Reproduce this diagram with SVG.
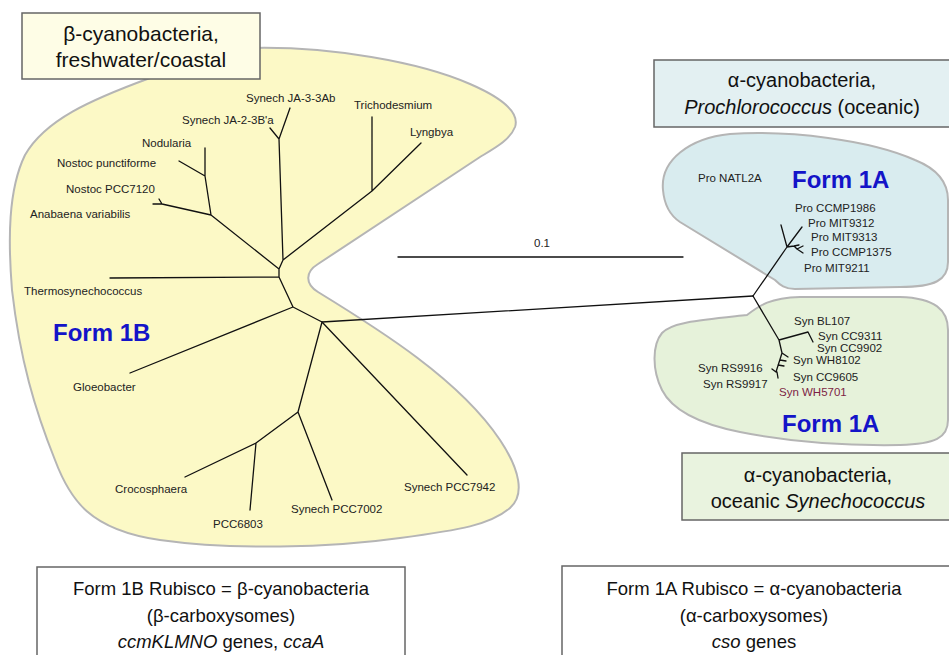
<svg xmlns="http://www.w3.org/2000/svg" width="949" height="655" viewBox="0 0 949 655">
<style>
.blob{stroke:#b5b5b5;stroke-width:2}
.box{stroke:#666;stroke-width:1.5}
.title{font-family:"Liberation Sans",Arial,sans-serif;font-size:20px;fill:#111;text-anchor:middle}
.foot{font-family:"Liberation Sans",Arial,sans-serif;font-size:18.5px;fill:#111;text-anchor:middle}
.lbl{font-family:"Liberation Sans",Arial,sans-serif;font-size:11.5px;fill:#222}
.form{font-family:"Liberation Sans",Arial,sans-serif;font-size:24px;font-weight:bold;fill:#1414c8}
.br{fill:none;stroke:#111;stroke-width:1.3;stroke-linecap:round;stroke-linejoin:round}
</style>
<rect width="949" height="655" fill="#fff"/>
<g id="blob-form1b">
<path class="blob" fill="#fcf9c6" d="M250,48 C330,46 420,62 470,84 C500,97 520,112 515,127 C510,140 495,148 480,157 L318,264 C305,272 305,284 318,292 C380,330 460,380 500,440 C520,470 525,495 510,508 C490,525 460,530 400,538 C330,548 230,550 160,540 C90,530 70,500 55,460 C35,410 20,360 12,290 C8,240 8,190 25,155 C45,120 90,100 150,78 C190,62 220,52 250,48 Z"/>
</g>
<g id="blob-pro">
<path class="blob" fill="#d9ecef" d="M663,190 C660,160 690,138 730,134 C790,130 870,140 915,160 C940,170 948,185 948,200 L948,262 C948,280 935,287 900,287 L795,289 C785,289 780,285 775,280 L680,222 C668,214 664,202 663,190 Z"/>
</g>
<g id="blob-syn">
<path class="blob" fill="#e6f2da" d="M747,315 C760,305 770,298 800,297 L900,297 C935,298 948,310 948,330 L948,420 C948,438 935,444 900,445 C840,446 790,442 740,432 C700,424 672,410 662,390 C652,370 652,345 662,333 C672,322 700,320 747,315 Z"/>
</g>
<g id="box-beta">
<rect class="box" x="22" y="13" width="238" height="66" fill="#fefde6"/>
<text class="title" x="141" y="41" style="font-size:21px">β-cyanobacteria,</text>
<text class="title" x="141" y="67" style="font-size:21px">freshwater/coastal</text>
</g>
<g id="box-pro">
<rect class="box" x="654" y="60" width="300" height="67" fill="#e3f0f2"/>
<text class="title" x="802" y="87">α-cyanobacteria,</text>
<text class="title" x="802" y="114"><tspan font-style="italic">Prochlorococcus</tspan> (oceanic)</text>
</g>
<g id="box-syn">
<rect class="box" x="682" y="453" width="272" height="67" fill="#e9f3df"/>
<text class="title" x="818" y="482">α-cyanobacteria,</text>
<text class="title" x="818" y="508">oceanic <tspan font-style="italic">Synechococcus</tspan></text>
</g>
<g id="box-1b">
<rect class="box" x="37" y="567" width="368" height="100" fill="#fff"/>
<text class="foot" x="221" y="595">Form 1B Rubisco = β-cyanobacteria</text>
<text class="foot" x="221" y="622">(β-carboxysomes)</text>
<text class="foot" x="221" y="648"><tspan font-style="italic">ccmKLMNO</tspan> genes, <tspan font-style="italic">ccaA</tspan></text>
</g>
<g id="box-1a">
<rect class="box" x="562" y="566" width="400" height="100" fill="#fff"/>
<text class="foot" x="754" y="595">Form 1A Rubisco = α-cyanobacteria</text>
<text class="foot" x="754" y="622">(α-carboxysomes)</text>
<text class="foot" x="754" y="648"><tspan font-style="italic">cso</tspan> genes</text>
</g>
<g id="connectors">
<path class="br" d="M110,278 L279,277 M279,269 L211,215 L205,176 L205,148 M205,176 L179,161 M211,215 L162,204 L153,204 M162,204 L159,199 M279,269 L283,260 L279,139 L290,108 M279,139 L270,128 M283,260 L372,191 L421,143 M372,191 L372,117 M279,269 L279,277 L293,307 L130,373 M293,307 L322,322 L467,475 M322,322 L298,412 L332,500 M298,412 L256,443 L185,477 M256,443 L250,510"/>
<path class="br" d="M322,322 L753,296"/>
<path class="br" d="M753,296 L787,247 L781,225 M787,247 L802,227 M787,247 L794,246 L799,245 M794,246 L797,249 L803,246 M797,249 L803,253"/>
<path class="br" d="M753,296 L779,340 L808,332 L813,342 M779,340 L782,353 L788,357 M782,353 L776,372 M780,360 L786,361 M778,365 L784,366 M776,372 L772,369 M777,372 L778,378"/>
<path class="br" d="M398,257 L683,257"/>
</g>
<g id="scale"><text class="lbl" x="542" y="247" text-anchor="middle">0.1</text></g>
<g id="labels-1b">
<text class="form" x="53" y="341">Form 1B</text>
<text id="n-ja33" class="lbl" x="246" y="102">Synech JA-3-3Ab</text>
<text id="n-ja23" class="lbl" x="182" y="124">Synech JA-2-3B'a</text>
<text id="n-tricho" class="lbl" x="354" y="109">Trichodesmium</text>
<text id="n-lyng" class="lbl" x="410" y="136">Lyngbya</text>
<text id="n-nodu" class="lbl" x="142" y="147">Nodularia</text>
<text id="n-npunc" class="lbl" x="57" y="167">Nostoc punctiforme</text>
<text id="n-n7120" class="lbl" x="66" y="193">Nostoc PCC7120</text>
<text id="n-anab" class="lbl" x="30" y="218">Anabaena variabilis</text>
<text id="n-thermo" class="lbl" x="24" y="295">Thermosynechococcus</text>
<text id="n-gloeo" class="lbl" x="73" y="391">Gloeobacter</text>
<text id="n-croco" class="lbl" x="115" y="493">Crocosphaera</text>
<text id="n-6803" class="lbl" x="213" y="528">PCC6803</text>
<text id="n-7002" class="lbl" x="291" y="513">Synech PCC7002</text>
<text id="n-7942" class="lbl" x="404" y="491">Synech PCC7942</text>
</g>
<g id="labels-pro">
<text class="form" x="792" y="188">Form 1A</text>
<text id="n-natl" class="lbl" x="698" y="182">Pro NATL2A</text>
<text id="n-1986" class="lbl" x="795" y="212">Pro CCMP1986</text>
<text id="n-9312" class="lbl" x="808" y="227">Pro MIT9312</text>
<text id="n-9313" class="lbl" x="811" y="241">Pro MIT9313</text>
<text id="n-1375" class="lbl" x="811" y="256">Pro CCMP1375</text>
<text id="n-9211" class="lbl" x="804" y="272">Pro MIT9211</text>
</g>
<g id="labels-syn">
<text id="n-bl107" class="lbl" x="794" y="325">Syn BL107</text>
<text id="n-9311" class="lbl" x="818" y="340">Syn CC9311</text>
<text id="n-9902" class="lbl" x="817" y="352">Syn CC9902</text>
<text id="n-8102" class="lbl" x="793" y="364">Syn WH8102</text>
<text id="n-9605" class="lbl" x="793" y="381">Syn CC9605</text>
<text id="n-5701" class="lbl" x="779" y="396" style="fill:#7d1f45">Syn WH5701</text>
<text id="n-9916" class="lbl" x="698" y="372">Syn RS9916</text>
<text id="n-9917" class="lbl" x="703" y="388">Syn RS9917</text>
<text class="form" x="782" y="432">Form 1A</text>
</g>
</svg>
